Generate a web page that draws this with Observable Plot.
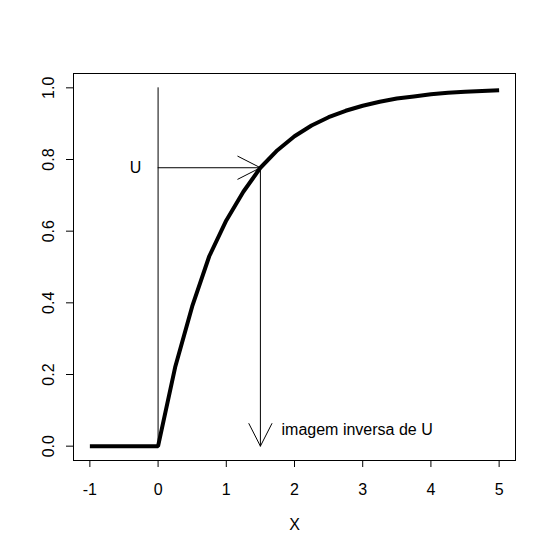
<!DOCTYPE html>
<html><head><meta charset="utf-8">
<script src="https://cdn.jsdelivr.net/npm/d3@7"></script>
<script src="https://cdn.jsdelivr.net/npm/@observablehq/plot@0.6"></script>
<style>body{margin:0;background:#fff}</style>
</head><body><div id="chart"></div>
<script>
// Curve values (cumulative distribution)
const xs  = [-1, 0, 0.25, 0.5, 0.75, 1, 1.25, 1.5, 1.75, 2, 2.25, 2.5, 2.75, 3, 3.25, 3.5, 3.75, 4, 4.25, 4.5, 4.75, 5];
const cdf = [0, 0, 0.22, 0.39, 0.53, 0.63, 0.71, 0.777, 0.826, 0.865, 0.895, 0.918, 0.936, 0.95, 0.961, 0.97, 0.976, 0.982, 0.986, 0.989, 0.991, 0.993];
const xTicks = [-1, 0, 1, 2, 3, 4, 5];
const yTicks = [0, 0.2, 0.4, 0.6, 0.8, 1.0];
const uValue = 0.777;      // U
const xInverse = 1.5;      // inverse image of U
const uLabel = "U";
const inverseLabel = "imagem inversa de U";
const xLabel = "X";

const curve = xs.map((x, i) => ({x, y: cdf[i]}));
const arrows = [
  {x1: 0, y1: uValue, x2: xInverse, y2: uValue},
  {x1: xInverse, y1: uValue, x2: xInverse, y2: 0}
];

const chart = Plot.plot({
  width: 553, height: 552,
  marginLeft: 73, marginRight: 38, marginTop: 73, marginBottom: 92,
  x: {domain: [-1.24, 5.24]},
  y: {domain: [-0.04, 1.04]},
  style: {fontFamily: "'Liberation Sans', Arial, sans-serif", fontSize: "16px", color: "black", background: "white"},
  marks: [
    Plot.frame({stroke: "black", strokeWidth: 1}),
    Plot.axisX(xTicks, {tickSize: 7, tickPadding: 16, tickFormat: d => String(d), label: null, fontSize: 16}),
    Plot.axisY(yTicks, {tickSize: 7, tickRotate: -90, tickPadding: 13, tickFormat: d => d.toFixed(1), label: null, fontSize: 16}),
    Plot.text([xLabel], {frameAnchor: "bottom", dy: 69, fontSize: 16}),
    Plot.line(curve, {x: "x", y: "y", stroke: "black", strokeWidth: 4, strokeLinecap: "butt", strokeLinejoin: "miter"}),
    Plot.ruleX([0], {y1: 0, y2: 1, stroke: "black", strokeWidth: 1}),
    Plot.arrow(arrows, {x1: "x1", y1: "y1", x2: "x2", y2: "y2", stroke: "black", strokeWidth: 1, headLength: 38, headAngle: 54}),
    Plot.text([uLabel], {x: -0.33, y: uValue, fontSize: 16}),
    Plot.text([inverseLabel], {x: 1.81, y: 0.045, textAnchor: "start", fontSize: 16})
  ]
});
document.getElementById("chart").appendChild(chart);
</script>
</body></html>
